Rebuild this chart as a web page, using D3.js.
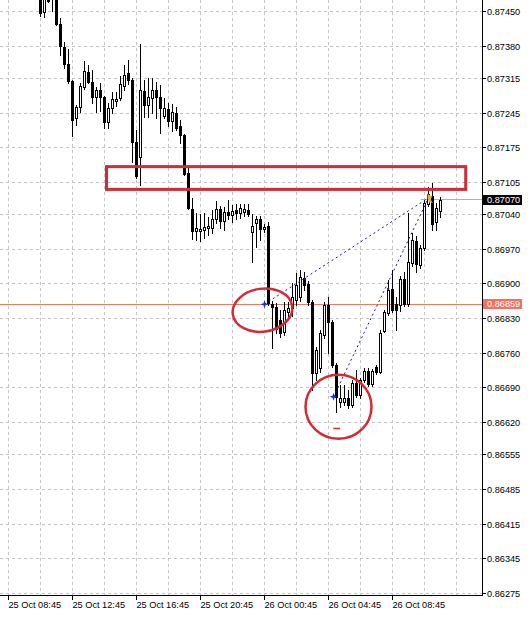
<!DOCTYPE html>
<html><head><meta charset="utf-8">
<script src="https://cdn.jsdelivr.net/npm/d3@7"></script>
<style>html,body{margin:0;padding:0;background:#fff;}svg{display:block;font-family:"Liberation Sans",Arial,sans-serif;}</style>
</head><body><svg id="c" width="531" height="620"></svg>
<script>
// ---------------- DATA ----------------
const axisStart = "2023-10-25T08:45:00Z";   // first time label on the axis
const firstBarTime = "2023-10-25T10:45:00Z"; // first visible candle
const barMinutes = 15;
const opens = [0.87486,0.87449,0.87480,0.87476,0.87478,0.87425,0.87379,0.87344,0.87310,0.87235,0.87257,0.87298,0.87328,0.87308,0.87278,0.87292,0.87278,0.87227,0.87255,0.87270,0.87276,0.87300,0.87326,0.87312,0.87187,0.87156,0.87290,0.87262,0.87276,0.87292,0.87278,0.87239,0.87253,0.87229,0.87245,0.87219,0.87201,0.87124,0.87051,0.87007,0.87007,0.87009,0.87013,0.87013,0.87031,0.87051,0.87027,0.87045,0.87039,0.87049,0.87043,0.87045,0.87049,0.87005,0.87023,0.87031,0.87011,0.87017,0.86860,0.86853,0.86827,0.86803,0.86843,0.86851,0.86868,0.86874,0.86912,0.86900,0.86864,0.86720,0.86730,0.86797,0.86858,0.86823,0.86736,0.86662,0.86662,0.86670,0.86655,0.86700,0.86676,0.86706,0.86724,0.86698,0.86732,0.86722,0.86805,0.86841,0.86890,0.86860,0.86858,0.86910,0.86860,0.86942,0.86987,0.86938,0.86973,0.87061,0.87078,0.87025,0.87047];
const highs = [0.87490,0.87486,0.87484,0.87486,0.87480,0.87437,0.87389,0.87375,0.87312,0.87262,0.87306,0.87350,0.87342,0.87332,0.87298,0.87306,0.87280,0.87266,0.87288,0.87288,0.87320,0.87342,0.87352,0.87316,0.87211,0.87385,0.87312,0.87316,0.87316,0.87308,0.87302,0.87276,0.87266,0.87264,0.87257,0.87231,0.87203,0.87134,0.87074,0.87043,0.87041,0.87043,0.87035,0.87049,0.87068,0.87057,0.87055,0.87070,0.87059,0.87061,0.87061,0.87061,0.87061,0.87041,0.87037,0.87037,0.87021,0.87025,0.86866,0.86862,0.86847,0.86864,0.86864,0.86902,0.86922,0.86928,0.86924,0.86906,0.86868,0.86773,0.86807,0.86864,0.86874,0.86827,0.86740,0.86696,0.86696,0.86686,0.86706,0.86726,0.86710,0.86730,0.86730,0.86728,0.86736,0.86807,0.86847,0.86908,0.86928,0.86874,0.86916,0.86924,0.87043,0.87003,0.86997,0.86979,0.87070,0.87096,0.87104,0.87064,0.87076];
const lows = [0.87441,0.87439,0.87470,0.87451,0.87423,0.87362,0.87336,0.87306,0.87199,0.87221,0.87247,0.87294,0.87306,0.87266,0.87247,0.87249,0.87215,0.87215,0.87245,0.87260,0.87272,0.87292,0.87304,0.87146,0.87114,0.87100,0.87237,0.87237,0.87245,0.87235,0.87205,0.87235,0.87219,0.87209,0.87211,0.87185,0.87120,0.87051,0.86991,0.86989,0.86987,0.86993,0.86999,0.87003,0.87023,0.87013,0.87009,0.87031,0.87025,0.87031,0.87033,0.87037,0.87037,0.86944,0.86975,0.86989,0.87005,0.86858,0.86771,0.86801,0.86793,0.86797,0.86831,0.86835,0.86858,0.86866,0.86888,0.86858,0.86686,0.86706,0.86722,0.86791,0.86761,0.86732,0.86641,0.86651,0.86655,0.86649,0.86651,0.86672,0.86670,0.86702,0.86694,0.86694,0.86718,0.86720,0.86803,0.86837,0.86843,0.86807,0.86845,0.86856,0.86856,0.86936,0.86924,0.86932,0.86969,0.87057,0.87009,0.87009,0.87035];
const closes = [0.87447,0.87478,0.87472,0.87482,0.87425,0.87381,0.87344,0.87310,0.87231,0.87257,0.87300,0.87330,0.87308,0.87278,0.87292,0.87278,0.87227,0.87255,0.87274,0.87274,0.87304,0.87322,0.87312,0.87187,0.87118,0.87292,0.87262,0.87278,0.87292,0.87278,0.87255,0.87255,0.87229,0.87247,0.87215,0.87201,0.87122,0.87053,0.87007,0.87013,0.87011,0.87015,0.87017,0.87031,0.87051,0.87027,0.87045,0.87039,0.87047,0.87043,0.87053,0.87051,0.87041,0.87017,0.87031,0.87011,0.87015,0.86862,0.86853,0.86809,0.86801,0.86847,0.86851,0.86874,0.86898,0.86914,0.86898,0.86864,0.86720,0.86767,0.86801,0.86858,0.86823,0.86736,0.86672,0.86670,0.86670,0.86655,0.86700,0.86676,0.86706,0.86724,0.86698,0.86724,0.86722,0.86801,0.86843,0.86888,0.86847,0.86847,0.86910,0.86860,0.86944,0.86989,0.86940,0.86973,0.87064,0.87082,0.87021,0.87053,0.87070];

const priceTicks = [0.87450,0.87380,0.87315,0.87245,0.87175,0.87105,0.87040,0.86970,0.86900,0.86830,0.86760,0.86690,0.86620,0.86555,0.86485,0.86415,0.86345,0.86275];
const timeTickLabels = ["25 Oct 08:45","25 Oct 12:45","25 Oct 16:45","25 Oct 20:45","26 Oct 00:45","26 Oct 04:45","26 Oct 08:45"];

const bidPrice = 0.87070;
const levelPrice = 0.86859;
// annotations (bar offsets from axisStart, prices)
const zoneBars = [24.5, 114.3];
const zonePrices = [0.87137, 0.87091];
const ellipseBars = [63.5, 82.5];
const ellipsePrices = [0.86847, 0.86652];
const trendFromBars = [64, 81.25];
const trendFromPrices = [0.86859, 0.86672];
const trendToBar = 105;
const trendToPrice = 0.87074;
const dotBars = [74.1, 94.9];
const dotPrices = [0.86910, 0.86890];
const dashBars = [81.2, 82.9];
const dashPrice = 0.86608;
const bidLineFromBar = 103.1;

// ---------------- CHART ----------------
const W = 531, H = 620, plotR = 482, plotB = 595;
const svg = d3.select("#c");
const MIN = 60000;
const t0 = new Date(axisStart).getTime();
const tFirst = new Date(firstBarTime).getTime();
const barMs = barMinutes * MIN;
const atBar = b => new Date(t0 + b * barMs);

const x = d3.scaleUtc().domain([atBar(0), atBar(128)]).range([8.5, 8.5 + 128 * 4]);
const y = d3.scaleLinear().domain([0.86275, 0.87450]).range([593.3, 11.7]);

const bars = opens.map((o, i) => ({
  t: new Date(tFirst + i * barMs), o, h: highs[i], l: lows[i], c: closes[i]
}));

// grid
const grid = svg.append("g").attr("stroke", "#c4c4c4").attr("stroke-dasharray", "3,3").attr("stroke-width", 1);
d3.range(0, 15).forEach(k => {
  const gx = Math.round(x(atBar(k * 8)) - 0.5) + 0.5;
  if (gx < plotR) grid.append("line").attr("x1", gx).attr("x2", gx).attr("y1", 0).attr("y2", plotB);
});
priceTicks.forEach(p => {
  const gy = Math.round(y(p) - 0.5) + 0.5;
  grid.append("line").attr("x1", 0).attr("x2", plotR).attr("y1", gy).attr("y2", gy);
});

svg.append("clipPath").attr("id", "clip").append("rect").attr("x", 0).attr("y", 0).attr("width", plotR).attr("height", plotB);
const plot = svg.append("g").attr("clip-path", "url(#clip)");

// horizontal price lines
const ly = Math.round(y(levelPrice) - 0.5) + 0.5;
plot.append("line").attr("x1", 0).attr("x2", plotR).attr("y1", ly).attr("y2", ly).attr("stroke", "#ec7a62").attr("stroke-width", 1);
const by = Math.round(y(bidPrice) - 0.5) + 0.5;
plot.append("line").attr("x1", x(atBar(bidLineFromBar))).attr("x2", plotR).attr("y1", by).attr("y2", by).attr("stroke", "#b0b0b0").attr("stroke-width", 1);

// candles
const cg = plot.append("g");
bars.forEach(d => {
  const cx = x(d.t);
  cg.append("line").attr("x1", cx).attr("x2", cx)
    .attr("y1", Math.round(y(d.h))).attr("y2", Math.round(y(d.l)) + 1)
    .attr("stroke", "#000").attr("stroke-width", 1);
  const top = Math.round(y(Math.max(d.o, d.c)));
  const bot = Math.round(y(Math.min(d.o, d.c)));
  if (d.c < d.o) {
    cg.append("rect").attr("x", cx - 1.5).attr("width", 3).attr("y", top).attr("height", Math.max(1, bot - top + 1)).attr("fill", "#000");
  } else {
    cg.append("rect").attr("x", cx - 1).attr("width", 2).attr("y", top + 0.5).attr("height", Math.max(0, bot - top)).attr("fill", "#fff").attr("stroke", "#000").attr("stroke-width", 1);
  }
});

// trend lines (dotted, navy)
trendFromBars.forEach((b, i) => {
  plot.append("line")
    .attr("x1", x(atBar(b))).attr("y1", y(trendFromPrices[i]))
    .attr("x2", x(atBar(trendToBar))).attr("y2", y(trendToPrice))
    .attr("stroke", "#1a1a8c").attr("stroke-width", 1).attr("stroke-dasharray", "2,3");
});
dotBars.forEach((b, i) => {
  plot.append("rect").attr("x", x(atBar(b)) - 1).attr("y", y(dotPrices[i]) - 1).attr("width", 2).attr("height", 2).attr("fill", "#1a1a8c");
});
// blue star markers
const star = "M0,-4L1,-1L4,0L1,1L0,4L-1,1L-4,0L-1,-1Z";
trendFromBars.forEach((b, i) => {
  plot.append("path").attr("d", star).attr("fill", "#1030e8")
    .attr("transform", `translate(${x(atBar(b))},${y(trendFromPrices[i])})`);
});
// yellow arrow
plot.append("path").attr("d", "M-2,-5L3,-2L1,0L3,4L0,4L-2,0Z").attr("fill", "#e2ae2c")
  .attr("transform", `translate(${x(atBar(trendToBar)) + 1},${y(trendToPrice) + 1})`);
// red dash
plot.append("line").attr("x1", x(atBar(dashBars[0]))).attr("x2", x(atBar(dashBars[1])))
  .attr("y1", y(dashPrice)).attr("y2", y(dashPrice)).attr("stroke", "#e02828").attr("stroke-width", 1.5);

// red zone rectangle
plot.append("rect")
  .attr("x", x(atBar(zoneBars[0]))).attr("y", y(zonePrices[0]))
  .attr("width", x(atBar(zoneBars[1])) - x(atBar(zoneBars[0])))
  .attr("height", y(zonePrices[1]) - y(zonePrices[0]))
  .attr("fill", "none").attr("stroke", "#d42a33").attr("stroke-width", 3);

// red ellipses
const ellSize = [[30, 21.5, -8], [33, 32, 0]];
ellipseBars.forEach((b, i) => {
  plot.append("ellipse").attr("cx", 0).attr("cy", 0)
    .attr("rx", ellSize[i][0]).attr("ry", ellSize[i][1])
    .attr("transform", `translate(${x(atBar(b))},${y(ellipsePrices[i])}) rotate(${ellSize[i][2]})`)
    .attr("fill", "none").attr("stroke", "#d42a33").attr("stroke-width", 2.5);
});

// axes lines
svg.append("line").attr("x1", plotR + 0.5).attr("x2", plotR + 0.5).attr("y1", 0).attr("y2", plotB + 1).attr("stroke", "#000");
svg.append("line").attr("x1", 0).attr("x2", plotR + 1).attr("y1", plotB + 0.5).attr("y2", plotB + 0.5).attr("stroke", "#000");

// price axis
const fs = 9.2;
priceTicks.forEach(p => {
  const gy = Math.round(y(p) - 0.5) + 0.5;
  svg.append("line").attr("x1", plotR).attr("x2", plotR + 4).attr("y1", gy).attr("y2", gy).attr("stroke", "#000");
  svg.append("text").attr("x", 487).attr("y", gy).attr("dy", "0.35em").attr("font-size", fs).attr("fill", "#000").text(p.toFixed(5));
});
// price boxes
[[bidPrice, "#000"], [levelPrice, "#f2705c"]].forEach(([p, col]) => {
  const cy = y(p);
  svg.append("rect").attr("x", 483).attr("y", Math.round(cy) - 5).attr("width", 39).attr("height", 10).attr("fill", col);
  svg.append("text").attr("x", 487).attr("y", Math.round(cy)).attr("dy", "0.35em").attr("font-size", fs).attr("fill", "#fff").text(p.toFixed(5));
});

// time axis
const parseT = d3.utcParse("%Y %d %b %H:%M");
timeTickLabels.forEach(lbl => {
  const tx = Math.round(x(parseT("2023 " + lbl)) - 0.5) + 0.5;
  svg.append("line").attr("x1", tx).attr("x2", tx).attr("y1", plotB).attr("y2", plotB + 5).attr("stroke", "#000");
  svg.append("text").attr("x", tx).attr("y", 605).attr("dy", "0.35em").attr("font-size", fs).attr("fill", "#000").text(lbl);
});
</script></body></html>
